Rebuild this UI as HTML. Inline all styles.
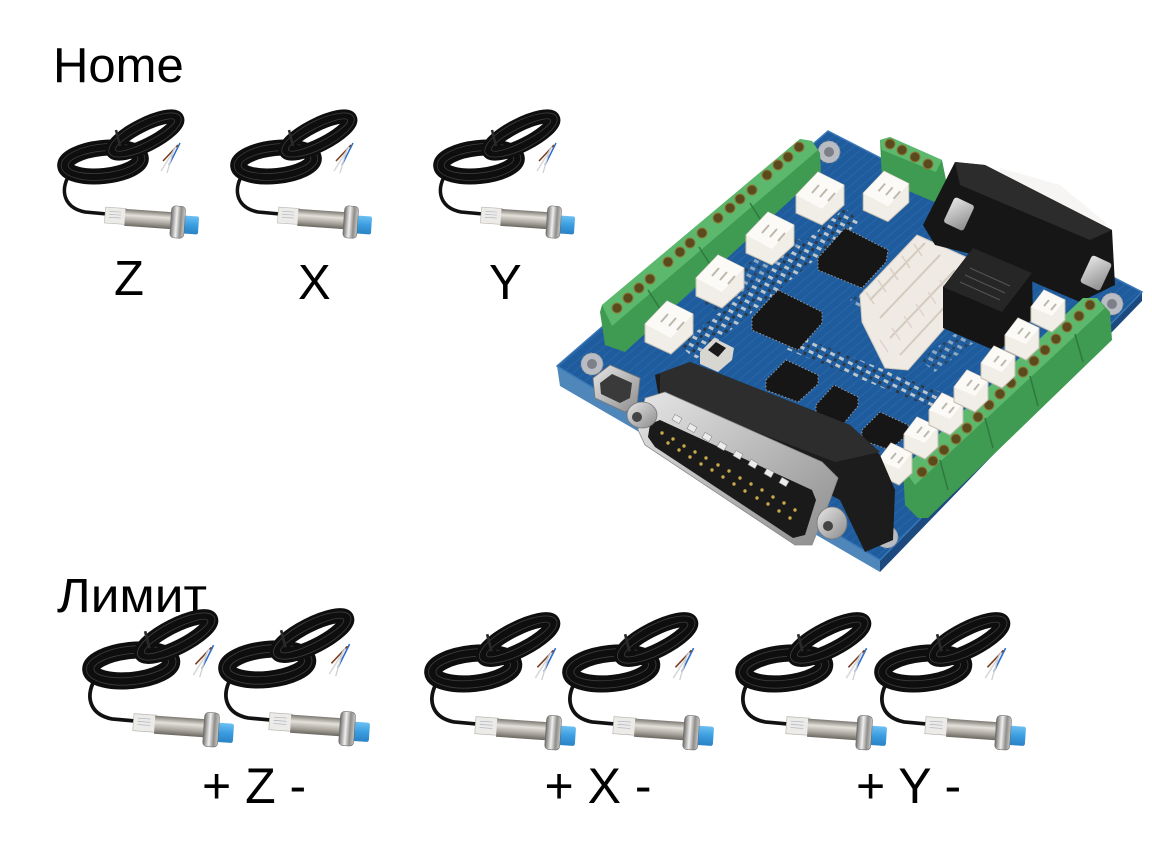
<!DOCTYPE html>
<html><head><meta charset="utf-8"><style>
html,body{margin:0;padding:0;background:#fff;}
svg{display:block;}
text{font-family:"Liberation Sans",Arial,sans-serif;fill:#000;}
</style></head><body>
<svg width="1152" height="864" viewBox="0 0 1152 864" xmlns="http://www.w3.org/2000/svg">
<defs>
<linearGradient id="metal" x1="0" y1="0" x2="0" y2="1">
<stop offset="0" stop-color="#7b7771"/><stop offset="0.35" stop-color="#e4e1db"/><stop offset="0.7" stop-color="#aaa69e"/><stop offset="1" stop-color="#6a6761"/>
</linearGradient>
<linearGradient id="nut" x1="0" y1="0" x2="1" y2="0">
<stop offset="0" stop-color="#6f6d6a"/><stop offset="0.4" stop-color="#efefef"/><stop offset="0.7" stop-color="#8f8d8a"/><stop offset="1" stop-color="#c9c7c4"/>
</linearGradient>
<linearGradient id="blue" x1="0" y1="0" x2="0" y2="1">
<stop offset="0" stop-color="#6cc0f2"/><stop offset="0.5" stop-color="#3a9de0"/><stop offset="1" stop-color="#2a82c4"/>
</linearGradient>
<linearGradient id="silver" x1="0" y1="0" x2="1" y2="1">
<stop offset="0" stop-color="#e6e6e6"/><stop offset="0.5" stop-color="#b9b9b9"/><stop offset="1" stop-color="#8c8c8c"/>
</linearGradient>
<pattern id="traces" width="7" height="7" patternUnits="userSpaceOnUse" patternTransform="rotate(-40)">
<rect width="7" height="7" fill="#1f5c9d"/><line x1="0" y1="3" x2="7" y2="3" stroke="#2866a8" stroke-width="1"/>
</pattern>
<pattern id="smd" width="10" height="8" patternUnits="userSpaceOnUse" patternTransform="rotate(27)">
<rect x="0" y="0" width="5" height="3" fill="#d9d9d4"/><rect x="6" y="4" width="3" height="3" fill="#303030"/>
</pattern>

<g id="sensor">
 <path d="M10,66 C4,80 8,95 28,99 L50,101" fill="none" stroke="#111" stroke-width="3.5"/>
 <ellipse cx="46" cy="49" rx="38" ry="14" transform="rotate(-6 46 49)" fill="none" stroke="#0e0e0e" stroke-width="16"/>
 <ellipse cx="46" cy="49" rx="42" ry="18" transform="rotate(-6 46 49)" fill="none" stroke="#3c3c3c" stroke-width="0.8"/>
 <ellipse cx="46" cy="49" rx="35" ry="11" transform="rotate(-6 46 49)" fill="none" stroke="#3c3c3c" stroke-width="0.8"/>
 <ellipse cx="88" cy="22" rx="36" ry="10" transform="rotate(-27 88 22)" fill="none" stroke="#0e0e0e" stroke-width="14"/>
 <ellipse cx="88" cy="22" rx="40" ry="14" transform="rotate(-27 88 22)" fill="none" stroke="#3c3c3c" stroke-width="0.8"/>
 <ellipse cx="88" cy="22" rx="33" ry="7" transform="rotate(-27 88 22)" fill="none" stroke="#3c3c3c" stroke-width="0.8"/>
 <path d="M59,17 l4,16" stroke="#2a2a2a" stroke-width="2.5"/>
 <path d="M123,30 L112,52" stroke="#2f6fd0" stroke-width="1.5"/>
 <path d="M121,32 L106,48" stroke="#7a4020" stroke-width="1.5"/>
 <path d="M119,34 L104,58" stroke="#d8d8d8" stroke-width="1.5"/>
 <path d="M117,36 L110,60" stroke="#cfcfcf" stroke-width="1.2"/>
 <g transform="rotate(4 48 102)">
  <rect x="48" y="94" width="21" height="16" fill="#ecebe8" stroke="#b5b3ae" stroke-width="0.6"/>
  <path d="M52,98 h12 M52,101 h12 M52,104 h12" stroke="#a8b0c0" stroke-width="0.6"/>
  <rect x="68" y="94.5" width="48" height="17" fill="url(#metal)"/>
  <rect x="126" y="97" width="16" height="18" rx="2" fill="url(#blue)"/>
  <rect x="114" y="88" width="14" height="32" rx="4" fill="url(#nut)" stroke="#666" stroke-width="0.5"/>
 </g>
</g>

<g id="jstA">
 <polygon points="-24,-2 -2,-25 24,-12 24,8 2,28 -24,16" fill="#f1eee7" stroke="#c4beb2" stroke-width="1"/>
 <polygon points="-24,-2 -2,-25 24,-12 2,12" fill="#fbfaf6"/>
 <path d="M-8,-4 l7,-8 M0,0 l7,-8 M8,4 l7,-8" stroke="#bdb8ad" stroke-width="2"/>
</g>
<g id="jstB">
 <polygon points="-17,-3 -4,-20 17,-10 17,10 4,22 -17,12" fill="#f1eee7" stroke="#c4beb2" stroke-width="1"/>
 <polygon points="-17,-3 -4,-20 17,-10 4,6" fill="#fbfaf6"/>
 <path d="M-4,-4 l5,-6 M3,0 l5,-6" stroke="#bdb8ad" stroke-width="2"/>
</g>
<g id="mhole">
 <circle r="11" fill="#b9bcc2"/>
 <circle r="11" fill="none" stroke="#8d9096" stroke-width="1" stroke-dasharray="2 2.5"/>
 <circle r="5" fill="#7d8088"/>
</g>
</defs>

<!-- Labels -->
<text x="53" y="82" font-size="49">Home</text>
<text x="114" y="295" font-size="49">Z</text>
<text x="298" y="299" font-size="49">X</text>
<text x="489" y="299" font-size="49">Y</text>
<text x="57" y="612" font-size="48" textLength="150" lengthAdjust="spacingAndGlyphs">Лимит</text>
<text x="202" y="803" font-size="50">+ Z -</text>
<text x="544.5" y="803" font-size="50">+ X -</text>
<text x="856" y="803" font-size="50">+ Y -</text>

<!-- Home sensors -->
<use href="#sensor" transform="translate(57,113)"/>
<use href="#sensor" transform="translate(230,113)"/>
<use href="#sensor" transform="translate(433,113)"/>

<!-- Limit sensors -->
<use href="#sensor" transform="translate(82,613) scale(1.07)"/>
<use href="#sensor" transform="translate(218,612) scale(1.07)"/>
<use href="#sensor" transform="translate(424,616) scale(1.07)"/>
<use href="#sensor" transform="translate(562,616) scale(1.07)"/>
<use href="#sensor" transform="translate(735,616) scale(1.07)"/>
<use href="#sensor" transform="translate(874,616) scale(1.07)"/>

<!-- Board -->
<polygon points="557,366 880,560 880,572 560,386" fill="#5087bb"/>
<polygon points="880,560 1142,292 1142,301 880,572" fill="#1d4a7e"/>
<polygon points="828,131 1142,292 880,560 557,366" fill="url(#traces)"/>
<polygon points="828,131 1142,292 880,560 557,366" fill="none" stroke="#3a78b8" stroke-width="1.5"/>

<!-- SMD textures -->
<polygon points="680,345 845,208 860,222 695,360" fill="url(#smd)" opacity="0.85"/>
<polygon points="790,332 955,398 948,414 783,348" fill="url(#smd)" opacity="0.85"/>
<polygon points="700,300 790,232 805,244 716,312" fill="url(#smd)" opacity="0.6"/>
<polygon points="850,300 870,285 890,300 870,318" fill="url(#smd)" opacity="0.6"/>
<polygon points="920,360 960,330 975,342 935,372" fill="url(#smd)" opacity="0.6"/>

<!-- mounting holes -->
<use href="#mhole" transform="translate(829,152)"/>
<use href="#mhole" transform="translate(592,364)"/>
<use href="#mhole" transform="translate(887,537)"/>
<use href="#mhole" transform="translate(1112,304)"/>

<!-- Left green terminal strip -->
<polygon points="600,312 602,305 800,139 812,141 820,153 821,172 625,352 605,345" fill="#3f9a52"/>
<polygon points="602,305 800,139 812,141 818,150 612,326" fill="#5cb86c"/>
<path d="M648,290 l14,22 M699,247 l14,22 M750,203 l14,22" stroke="#2e7a3e" stroke-width="1.5"/>
<g fill="#5a4a1e" stroke="#8c7a3a" stroke-width="1">
<circle cx="617" cy="308" r="5"/><circle cx="628" cy="298" r="5"/><circle cx="639" cy="288" r="5"/><circle cx="650" cy="279" r="5"/>
<circle cx="668" cy="262" r="5"/><circle cx="680" cy="252" r="5"/><circle cx="690" cy="243" r="5"/><circle cx="702" cy="233" r="5"/>
<circle cx="718" cy="218" r="5"/><circle cx="730" cy="208" r="5"/><circle cx="740" cy="199" r="5"/><circle cx="752" cy="190" r="5"/>
<circle cx="767" cy="175" r="5"/><circle cx="778" cy="165" r="5"/><circle cx="788" cy="157" r="5"/><circle cx="799" cy="147" r="5"/>
</g>

<!-- Top right green terminal -->
<polygon points="880,140 890,137 942,160 947,185 937,203 882,180" fill="#3f9a52"/>
<polygon points="880,140 890,137 942,160 936,172 882,150" fill="#5cb86c"/>
<g fill="#5a4a1e" stroke="#8c7a3a" stroke-width="1">
<circle cx="890" cy="144" r="5"/><circle cx="902" cy="150" r="5"/><circle cx="915" cy="157" r="5"/><circle cx="928" cy="164" r="5"/>
</g>

<!-- Left JST row -->
<use href="#jstA" transform="translate(820,197)"/>
<use href="#jstA" transform="translate(770,237)"/>
<use href="#jstA" transform="translate(720,280)"/>
<use href="#jstA" transform="translate(669,326)"/>
<use href="#jstA" transform="translate(886,195) scale(0.95)"/>

<!-- Chips -->
<g fill="#161616" stroke="#9a9a9a" stroke-width="1" stroke-dasharray="1.5 2">
<polygon points="818,258 845,228 888,250 886,262 862,288 818,270"/>
<polygon points="752,318 778,290 822,312 822,323 798,350 752,330"/>
<polygon points="766,380 786,360 818,375 818,384 798,402 766,390"/>
<polygon points="816,405 834,385 858,397 858,406 840,428 816,416"/>
<polygon points="862,430 880,412 908,425 908,434 890,450 862,440"/>
</g>

<!-- slide switch -->
<polygon points="700,352 714,338 734,348 732,360 718,372 700,364" fill="#d8d6d0"/>
<polygon points="708,350 716,342 726,348 718,357" fill="#1a1a1a"/>

<!-- Long white headers -->
<polygon points="860,295 917,235 968,258 972,292 943,330 908,370 885,368 862,322" fill="#efebe4" stroke="#cfc9bd" stroke-width="1"/>
<path d="M870,300 L925,243 M880,318 L940,255 M890,338 L955,270 M900,355 L965,285" stroke="#d2cbbe" stroke-width="2"/>
<path d="M866,292 l8,12 M878,280 l8,12 M890,268 l8,12 M902,256 l8,12 M914,244 l8,12" stroke="#d8d0c2" stroke-width="1.5"/>
<path d="M880,340 l8,12 M892,328 l8,12 M904,316 l8,12 M916,304 l8,12 M928,292 l8,12 M940,280 l8,12" stroke="#e2cfcf" stroke-width="1.5"/>

<!-- DB9 -->
<polygon points="1000,168 1060,185 1105,222 1112,240 1060,230 1000,190" fill="#e8e6e2" opacity="0.4"/>
<polygon points="923,225 955,162 985,165 1112,230 1115,285 1080,302 1040,285 975,255 935,245" fill="#161616"/>
<polygon points="955,162 985,165 1112,230 1090,240 960,185" fill="#2c2c2c"/>
<rect x="948" y="200" width="22" height="28" rx="3" fill="url(#silver)" transform="rotate(25 959 214)"/>
<rect x="1085" y="258" width="22" height="30" rx="3" fill="url(#silver)" transform="rotate(25 1096 273)"/>

<!-- Relay -->
<polygon points="943,287 973,248 1032,273 1033,318 998,352 943,328" fill="#151515"/>
<polygon points="943,287 973,248 1032,273 1002,312" fill="#262626"/>
<path d="M965,275 l40,18 M960,282 l40,18 M970,268 l40,18" stroke="#555" stroke-width="1"/>

<!-- Right green terminal strip -->
<polygon points="903,468 1083,298 1097,298 1110,312 1112,340 928,518 918,518 905,505" fill="#3f9a52"/>
<polygon points="903,468 1083,298 1097,298 1105,308 915,485" fill="#5cb86c"/>
<path d="M940,460 l8,30 M985,418 l8,30 M1030,376 l8,30 M1075,334 l8,28" stroke="#2e7a3e" stroke-width="1.5"/>
<g fill="#5a4a1e" stroke="#8c7a3a" stroke-width="1">
<circle cx="922" cy="472" r="5"/><circle cx="933" cy="461" r="5"/><circle cx="944" cy="450" r="5"/><circle cx="956" cy="439" r="5"/>
<circle cx="967" cy="428" r="5"/><circle cx="978" cy="417" r="5"/><circle cx="989" cy="405" r="5"/><circle cx="1000" cy="394" r="5"/>
<circle cx="1011" cy="383" r="5"/><circle cx="1023" cy="372" r="5"/><circle cx="1034" cy="361" r="5"/><circle cx="1045" cy="350" r="5"/>
<circle cx="1056" cy="339" r="5"/><circle cx="1067" cy="327" r="5"/><circle cx="1079" cy="316" r="5"/><circle cx="1090" cy="305" r="5"/>
</g>

<!-- Right JST row -->
<use href="#jstB" transform="translate(895,463)"/>
<use href="#jstB" transform="translate(921,437)"/>
<use href="#jstB" transform="translate(946,413)"/>
<use href="#jstB" transform="translate(971,390)"/>
<use href="#jstB" transform="translate(998,366)"/>
<use href="#jstB" transform="translate(1022,338)"/>
<use href="#jstB" transform="translate(1048,310)"/>

<!-- Mini USB -->
<polygon points="593,378 610,365 640,378 637,405 625,412 595,398" fill="url(#silver)" stroke="#777" stroke-width="0.8"/>
<polygon points="600,383 612,374 632,383 630,398 620,403 601,394" fill="#3a3a3a"/>

<!-- DB25 -->
<polygon points="655,375 690,362 850,425 880,455 895,490 893,540 865,552 840,500 660,405" fill="#1c1c1c"/>
<polygon points="660,373 690,362 850,425 880,452 835,462 660,395" fill="#2d2d2d"/>
<polygon points="645,398 665,392 822,462 838,478 830,500 812,545 795,545 645,445 638,430" fill="url(#silver)" stroke="#8a8a8a" stroke-width="0.8"/>
<polygon points="650,424 660,420 812,490 816,500 805,535 793,538 655,447 648,437" fill="#1a1a1a"/>
<g fill="#ececec" stroke="#8a8a8a" stroke-width="0.6">
<rect x="673" y="416" width="8" height="6" transform="rotate(30 677 419)"/>
<rect x="688" y="425" width="8" height="6" transform="rotate(30 692 428)"/>
<rect x="703" y="434" width="8" height="6" transform="rotate(30 707 437)"/>
<rect x="718" y="443" width="8" height="6" transform="rotate(30 722 446)"/>
<rect x="734" y="452" width="8" height="6" transform="rotate(30 738 455)"/>
<rect x="749" y="461" width="8" height="6" transform="rotate(30 753 464)"/>
<rect x="765" y="470" width="8" height="6" transform="rotate(30 769 473)"/>
<rect x="780" y="479" width="8" height="6" transform="rotate(30 784 482)"/>
</g>
<g fill="#c9a94a">
<circle cx="662" cy="433" r="1.7"/><circle cx="673" cy="439" r="1.7"/><circle cx="684" cy="446" r="1.7"/><circle cx="695" cy="452" r="1.7"/><circle cx="706" cy="458" r="1.7"/><circle cx="718" cy="465" r="1.7"/><circle cx="729" cy="471" r="1.7"/><circle cx="740" cy="478" r="1.7"/><circle cx="751" cy="484" r="1.7"/><circle cx="762" cy="490" r="1.7"/><circle cx="773" cy="497" r="1.7"/><circle cx="784" cy="503" r="1.7"/><circle cx="795" cy="510" r="1.7"/>
<circle cx="668" cy="443" r="1.7"/><circle cx="679" cy="450" r="1.7"/><circle cx="690" cy="457" r="1.7"/><circle cx="701" cy="464" r="1.7"/><circle cx="712" cy="470" r="1.7"/><circle cx="723" cy="477" r="1.7"/><circle cx="734" cy="484" r="1.7"/><circle cx="745" cy="491" r="1.7"/><circle cx="757" cy="498" r="1.7"/><circle cx="768" cy="504" r="1.7"/><circle cx="779" cy="511" r="1.7"/><circle cx="790" cy="518" r="1.7"/>
</g>
<ellipse cx="642" cy="415" rx="15" ry="13" fill="url(#silver)" stroke="#777" stroke-width="0.8"/>
<ellipse cx="637" cy="417" rx="5" ry="5" fill="#444"/>
<ellipse cx="832" cy="523" rx="15" ry="16" fill="url(#silver)" stroke="#777" stroke-width="0.8"/>
<ellipse cx="828" cy="526" rx="5" ry="5" fill="#444"/>
</svg>
</body></html>
